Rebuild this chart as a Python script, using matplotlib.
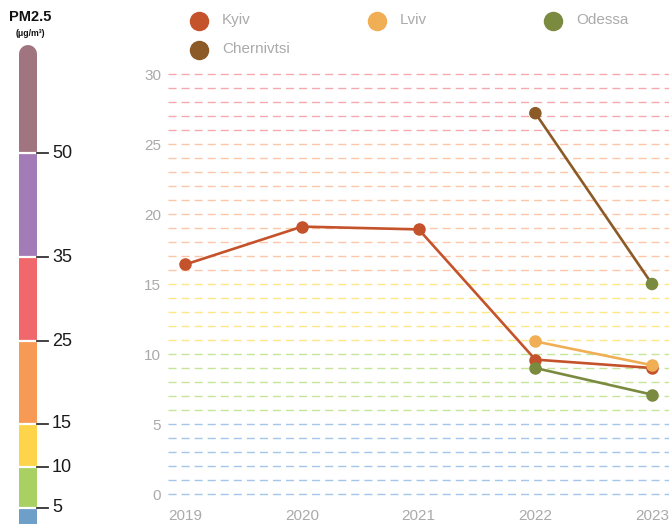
import numpy as np
import matplotlib
matplotlib.use("Agg")
import matplotlib.pyplot as plt
from matplotlib.lines import Line2D

plt.rcParams["font.family"] = ["Liberation Sans", "DejaVu Sans"]
plt.rcParams["lines.scale_dashes"] = False

# annual mean PM2.5 per city
years = [2019, 2020, 2021, 2022, 2023]
kyiv = [16.4, 19.1, 18.9, 9.6, 9.0]
recent_years = [2022, 2023]
lviv = [10.9, 9.2]
odessa = [9.0, 7.1]
chernivtsi = [27.2, 15.0]

cities = ["Kyiv", "Lviv", "Odessa", "Chernivtsi"]
city_colors = ["#c4522b", "#f0ae55", "#7a8a3f", "#8b5a26"]

# PM2.5 scale bands for the colour bar
pm_bounds = [0, 5, 10, 15, 25, 35, 50, 65]
pm_colors = ["#6e9fc8", "#a9d062", "#fed44b", "#f79a56", "#f0686b", "#a37bb6", "#a07580"]
pm_ticks = [5, 10, 15, 25, 35, 50]

# guide line colours by level
level_tops = [5, 10, 15, 25, 30]
level_colors = ["#a3c6ea", "#c6e599", "#ffe785", "#fcc7a8", "#f5a9ae"]

fig = plt.figure(figsize=(6.69, 5.24), dpi=100)
W, H = 669, 524


def px_axes(x0, y0, x1, y1):
    # axes from pixel box (top-left origin)
    return fig.add_axes([x0 / W, 1 - y1 / H, (x1 - x0) / W, (y1 - y0) / H])


# ---- colour bar (non-linear band scale) ----
scale_v = [0, 5, 10, 15, 25, 35, 50, 65, 80]
scale_t = [0, 41, 82, 125, 208, 292, 396, 495, 594]


def fwd(v):
    return np.interp(v, scale_v, scale_t)


def inv(t):
    return np.interp(t, scale_t, scale_v)


cax = px_axes(0, 45, 160, 524)
cax.set_yscale("function", functions=(fwd, inv))
cax.set_xlim(0, 160)
cax.set_ylim(inv(25), inv(504))
cax.axis("off")

bar_x = 28
bar_lw = 18 * 72 / 100
# top band drawn first with a rounded cap
cax.plot([bar_x, bar_x], [pm_bounds[-2], pm_bounds[-1]], color=pm_colors[-1],
         lw=bar_lw, solid_capstyle="round")
for lo, hi, c in zip(pm_bounds[:-2], pm_bounds[1:-1], pm_colors[:-1]):
    cax.plot([bar_x, bar_x], [lo - 5 if lo == 0 else lo, hi], color=c,
             lw=bar_lw, solid_capstyle="butt")
for t in pm_ticks:
    cax.plot([bar_x - 9, bar_x + 9], [t, t], color="white", lw=1.6)
    cax.plot([bar_x + 9, bar_x + 20], [t, t], color="#333333", lw=1.3)
    cax.text(bar_x + 24, t, str(t), fontsize=13, color="#1a1a1a", va="center", ha="left")

fig.text(30 / W, 1 - 17 / H, "PM2.5", fontsize=10.5, fontweight="bold",
         ha="center", va="center", color="#111111")
fig.text(30 / W, 1 - 33 / H, "(μg/m³)", fontsize=6.3, fontweight="bold",
         ha="center", va="center", color="#111111")

# ---- main chart ----
ax = px_axes(168, 67, 669, 501)
ax.set_xlim(2018.85, 2023.146)
ax.set_ylim(-0.5, 30.5)

for v in range(0, 31):
    idx = next(i for i, top in enumerate(level_tops) if v <= top)
    ax.axhline(v, color=level_colors[idx], lw=1.0, dashes=(5.8, 3.6), zorder=1)

ax.plot(years, kyiv, color=city_colors[0], lw=1.9, marker="o", ms=8, zorder=3)
ax.plot(recent_years, lviv, color=city_colors[1], lw=1.9, marker="o", ms=8, zorder=3)
ax.plot(recent_years, odessa, color=city_colors[2], lw=1.9, marker="o", ms=8, zorder=3)
ax.plot(recent_years, chernivtsi, color=city_colors[3], lw=1.9, zorder=3)
ax.scatter(recent_years, chernivtsi, color=[city_colors[3], city_colors[2]], s=64, zorder=4)

for s in ax.spines.values():
    s.set_visible(False)
ax.set_yticks(range(0, 31, 5))
ax.set_xticks(years)
ax.tick_params(length=0, colors="#aaaaaa", labelsize=11)
ax.tick_params(axis="y", pad=5)
ax.tick_params(axis="x", pad=6)

# ---- legend ----
legend_pos = [(199, 21), (377, 21), (553, 21), (199, 50)]
for name, c, (x, y) in zip(cities, city_colors, legend_pos):
    fig.add_artist(Line2D([x / W], [1 - y / H], marker="o", ms=13, color=c,
                          transform=fig.transFigure))
    fig.text((x + 23) / W, 1 - (y - 1) / H, name, fontsize=11, color="#aaaaaa",
             va="center", ha="left")

fig.savefig("out.png", dpi=100)
